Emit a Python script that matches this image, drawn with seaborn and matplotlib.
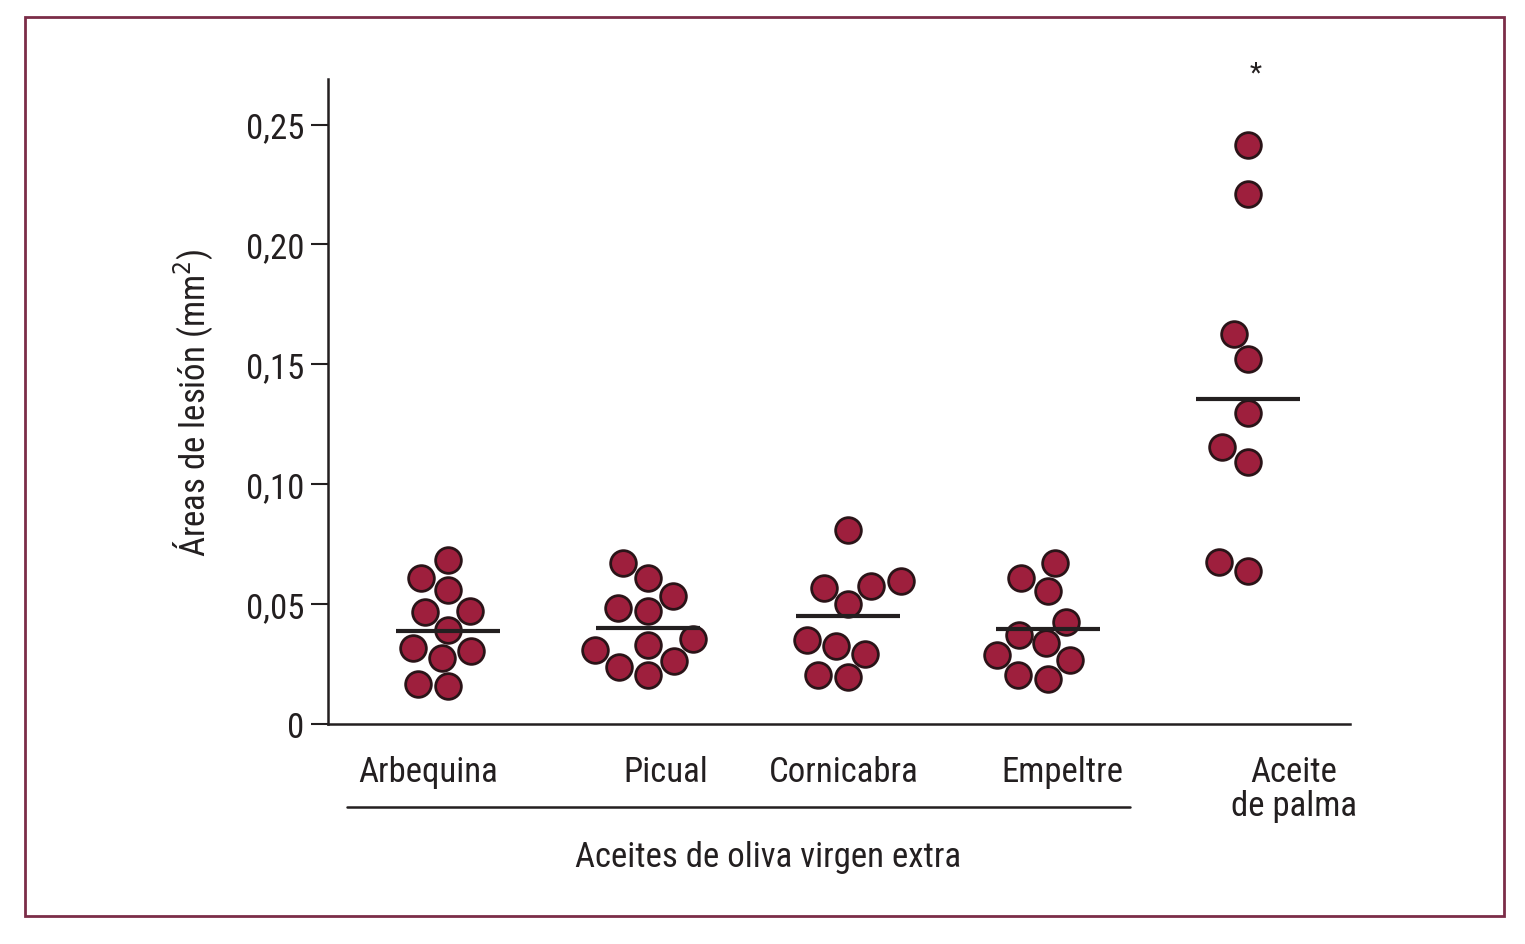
import matplotlib
matplotlib.use("Agg")
import matplotlib.pyplot as plt
import matplotlib.transforms as mtransforms
from matplotlib.patches import Rectangle
from matplotlib.lines import Line2D
import seaborn as sns
import pandas as pd

# values (lesion area, mm2)
groups = ["Arbequina", "Picual", "Cornicabra", "Empeltre", "Aceite\nde palma"]
arbequina = [0.0685, 0.0611, 0.0560, 0.0468, 0.0472, 0.0392, 0.0315, 0.0276, 0.0306, 0.0165, 0.0160]
picual = [0.0671, 0.0607, 0.0535, 0.0472, 0.0483, 0.0354, 0.0331, 0.0310, 0.0261, 0.0239, 0.0205]
cornicabra = [0.0808, 0.0569, 0.0597, 0.0574, 0.0500, 0.0350, 0.0326, 0.0292, 0.0205, 0.0194]
empeltre = [0.0671, 0.0608, 0.0556, 0.0424, 0.0372, 0.0336, 0.0289, 0.0267, 0.0205, 0.0188]
palma = [0.2413, 0.2211, 0.1625, 0.1521, 0.1296, 0.1155, 0.1093, 0.0639, 0.0674]
means = [0.0389, 0.0399, 0.0451, 0.0396, 0.1355]
yticks = [0, 0.05, 0.10, 0.15, 0.20, 0.25]
ytick_labels = ["0", "0,05", "0,10", "0,15", "0,20", "0,25"]

df = pd.DataFrame({
    "grupo": [groups[0]] * len(arbequina) + [groups[1]] * len(picual)
    + [groups[2]] * len(cornicabra) + [groups[3]] * len(empeltre)
    + [groups[4]] * len(palma),
    "area": arbequina + picual + cornicabra + empeltre + palma,
})

sns.set_style("white")
plt.rcParams["font.family"] = ["Liberation Sans Narrow", "DejaVu Sans Condensed",
                               "Roboto Condensed", "Roboto", "DejaVu Sans"]
plt.rcParams["font.stretch"] = "condensed"
FS = 25
INK = "#231f20"

fig = plt.figure(figsize=(15.25, 9.45), dpi=100)
ax = fig.add_axes([0.2151, 0.2328, 0.6701, 0.6825])

sns.swarmplot(data=df, x="grupo", y="area", order=groups, ax=ax,
              color="#9e1f3d", edgecolor="#2a1418", linewidth=2,
              size=18.5, warn_thresh=1)

for i, m in enumerate(means):
    ax.hlines(m, i - 0.26, i + 0.26, color=INK, linewidth=3, zorder=5)

ax.set_xlim(-0.6, 4.51)
ax.set_ylim(0, 0.269)
ax.set_yticks(yticks)
ax.set_yticklabels(ytick_labels, fontsize=FS, color=INK)
ax.set_xlabel("")
ax.set_ylabel("Áreas de lesión (mm$^2$)", fontsize=FS, color=INK, labelpad=22)
ax.tick_params(axis="y", direction="out", length=12, width=1.5, color=INK, pad=5, left=True)
ax.tick_params(axis="x", length=0, pad=22, labelsize=FS, labelcolor=INK)

sns.despine(ax=ax)
for s in ["left", "bottom"]:
    ax.spines[s].set_linewidth(1.8)
    ax.spines[s].set_color(INK)

# shift the category labels to where the reference sets them
shifts = [-20, 18, -4, 14, 46]
for lab, dx in zip(ax.get_xticklabels(), shifts):
    lab.set_transform(lab.get_transform() + mtransforms.ScaledTranslation(dx / 100, 0, fig.dpi_scale_trans))
    lab.set_verticalalignment("top")
    lab.set_linespacing(1.05)

# significance mark
ax.text(4.04, 0.2715, "*", ha="center", va="center", fontsize=20, color=INK, clip_on=False)

# bracket under the olive oils
fig.add_artist(Line2D([347 / 1525, 1130 / 1525], [1 - 808 / 945] * 2, color=INK, linewidth=1.8))
fig.text(768 / 1525, 1 - 858 / 945, "Aceites de oliva virgen extra", ha="center", va="center",
         fontsize=FS, color=INK)

# outer frame
fig.add_artist(Rectangle((25 / 1525, 1 - 917 / 945), 1479 / 1525, 899 / 945,
                         fill=False, edgecolor="#7b2d48", linewidth=2))

fig.savefig("out.png", dpi=100)
